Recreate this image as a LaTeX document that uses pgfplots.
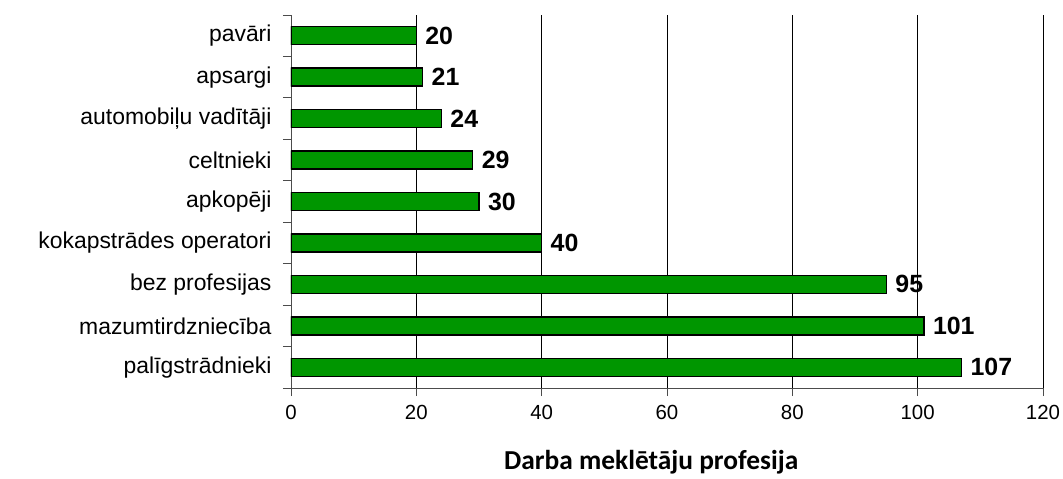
\documentclass[border=0pt]{standalone}
\usepackage{fontspec}
\setmainfont{Liberation Sans}
\newfontfamily\carlito{Carlito}
\usepackage{pgfplots}
\pgfplotsset{compat=1.18}
\definecolor{barg}{RGB}{0,150,0}
\begin{document}
\begin{tikzpicture}
\begin{axis}[
  at={(0,0)}, anchor=south west,
  scale only axis, width=752bp, height=373bp,
  xbar, bar width=18bp,
  xmin=0, xmax=120, ymin=-0.5, ymax=8.5,
  xtick={0,20,...,120},
  ytick={-0.5,0.5,1.5,2.5,3.5,4.5,5.5,6.5,7.5,8.5},
  y tick label as interval,
  yticklabels={palīgstrādnieki, mazumtirdzniecība, bez profesijas, kokapstrādes operatori, apkopēji, celtnieki, automobiļu vadītāji, apsargi, pavāri},
  axis x line*=bottom, axis y line*=left,
  axis line style={black!70, line width=0.8bp, -},
  tick align=outside, major tick length=8bp,
  tick style={black!70, line width=0.8bp},
  xmajorgrids, grid style={black, line width=0.7bp},
  xticklabel style={font=\fontsize{20.5}{24}\selectfont, yshift=-6bp},
  yticklabel style={font=\fontsize{23}{27}\selectfont, xshift=-8bp},
  /pgf/number format/assume math mode=true,
  nodes near coords, point meta=x,
  nodes near coords style={font=\fontsize{25}{28}\selectfont\bfseries, anchor=west, xshift=5bp},
  xlabel={Darba meklētāju profesija},
  xlabel style={font=\carlito\fontsize{27.5}{31}\selectfont\bfseries, at={(axis description cs:0.479,0)}, anchor=center, yshift=-74bp},
]
\addplot[fill=barg, draw=black, line width=1.5bp] coordinates {(107,0) (101,1) (95,2) (40,3) (30,4) (29,5) (24,6) (21,7) (20,8)};
\end{axis}
\pgfresetboundingbox
\useasboundingbox (-291bp,-91bp) rectangle (772bp,388bp);
\end{tikzpicture}
\end{document}
